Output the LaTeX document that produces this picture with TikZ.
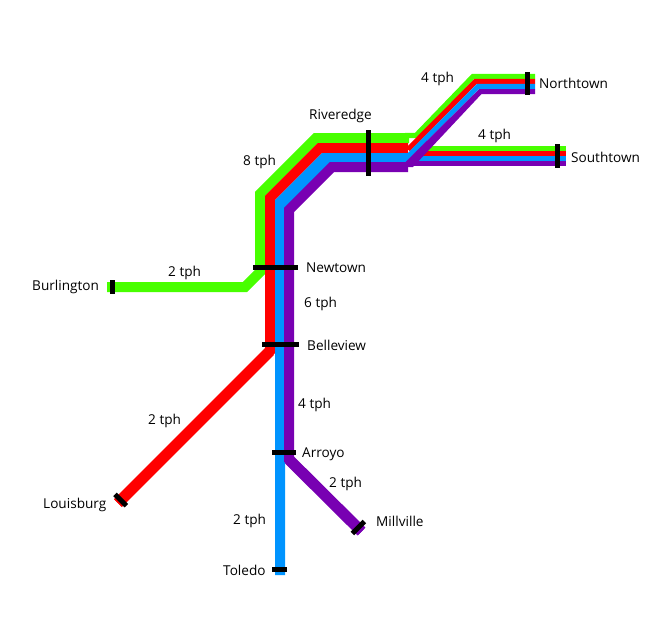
\documentclass[tikz,border=0pt]{standalone}
\usepackage{fontspec}
\setmainfont{Open Sans}
\definecolor{lgreen}{RGB}{72,255,0}
\definecolor{lred}{RGB}{255,0,0}
\definecolor{lblue}{RGB}{0,148,255}
\definecolor{lpurple}{RGB}{120,0,178}
\tikzset{
  wide/.style={line width=10pt,line join=miter,miter limit=10},
  spur/.style={line width=11.2pt},
  thin line/.style={line width=5.2pt,line join=miter,miter limit=10},
  bar/.style={black,line width=5pt},
  lab/.style={anchor=base west,inner sep=0pt,font=\fontsize{13.6}{16}\selectfont,text=black}
}
\begin{document}
\begin{tikzpicture}[x=1pt,y=-1pt]
\useasboundingbox (0,0) rectangle (667,625);
% Southtown branch
\draw[thin line,lgreen] (416,148.5) -- (566,148.5);
\draw[thin line,lred] (416,153.5) -- (566,153.5);
\draw[thin line,lblue] (416,158.5) -- (566,158.5);
\draw[thin line,lpurple] (412,163.5) -- (566,163.5);
% Trunk lines
\draw[wide,lgreen] (107,287) -- (245,287) -- (260,272) -- (260,194) -- (316,138) -- (409,138);
\draw[wide,lred] (118,503) -- (270,351) -- (270,198) -- (320,148) -- (408,148);
\draw[spur,lred] (118,503) -- (270,351);
\fill[lblue] (275,575) -- (275,200) -- (322,153) -- (408,153) -- (408,163) -- (330,163) -- (285,208) -- (285,575) -- cycle;
\draw[wide,lpurple] (361.5,531.5) -- (289,459.5) -- (289,210) -- (332,167) -- (408,167);
\draw[spur,lpurple] (361.5,531.5) -- (289,459.5);
% Northtown branch
\draw[thin line,lgreen] (405,135.5) -- (416,135.5) -- (473,76.5) -- (535,76.5);
\draw[thin line,lred] (408,149.5) -- (475.5,81.5) -- (535,81.5);
\draw[thin line,lblue] (404,160.5) -- (478,86.5) -- (535,86.5);
\fill[lpurple] (405,162.5) -- (479.3,89) -- (535,89) -- (535,94) -- (481.5,94) -- (413,167) -- (405,167) -- cycle;
% Station bars
\draw[bar] (368.5,130) -- (368.5,176);
\draw[bar] (527.5,72) -- (527.5,95);
\draw[bar] (557.5,144) -- (557.5,168);
\draw[bar] (253,267.5) -- (298,267.5);
\draw[bar] (262,344.5) -- (299,344.5);
\draw[bar] (112.5,280) -- (112.5,294);
\draw[bar] (272,452.5) -- (296,452.5);
\draw[bar] (272,569.5) -- (287,569.5);
\draw[bar] (115,494.3) -- (126.3,505.7);
\draw[bar] (352.3,533.5) -- (364.3,521.5);
% Labels
\node[lab] (riveredge) at (309,119) {Riveredge};
\node[lab] (northtown) at (539,88) {Northtown};
\node[lab] (southtown) at (571,162) {Southtown};
\node[lab] (newtown) at (306,272) {Newtown};
\node[lab] (burlington) at (32,290) {Burlington};
\node[lab] (belleview) at (307,350) {Belleview};
\node[lab] (arroyo) at (302,457) {Arroyo};
\node[lab] (louisburg) at (43,508) {Louisburg};
\node[lab] (millville) at (376,526) {Millville};
\node[lab] (toledo) at (223,575) {Toledo};
\node[lab] (t8) at (243,165) {8 tph};
\node[lab] (t4n) at (421,82) {4 tph};
\node[lab] (t4s) at (478,139) {4 tph};
\node[lab] (t2b) at (168,276) {2 tph};
\node[lab] (t6) at (304,307) {6 tph};
\node[lab] (t4a) at (298,408) {4 tph};
\node[lab] (t2l) at (148,424) {2 tph};
\node[lab] (t2m) at (329,487) {2 tph};
\node[lab] (t2t) at (233,524) {2 tph};
\end{tikzpicture}
\end{document}
